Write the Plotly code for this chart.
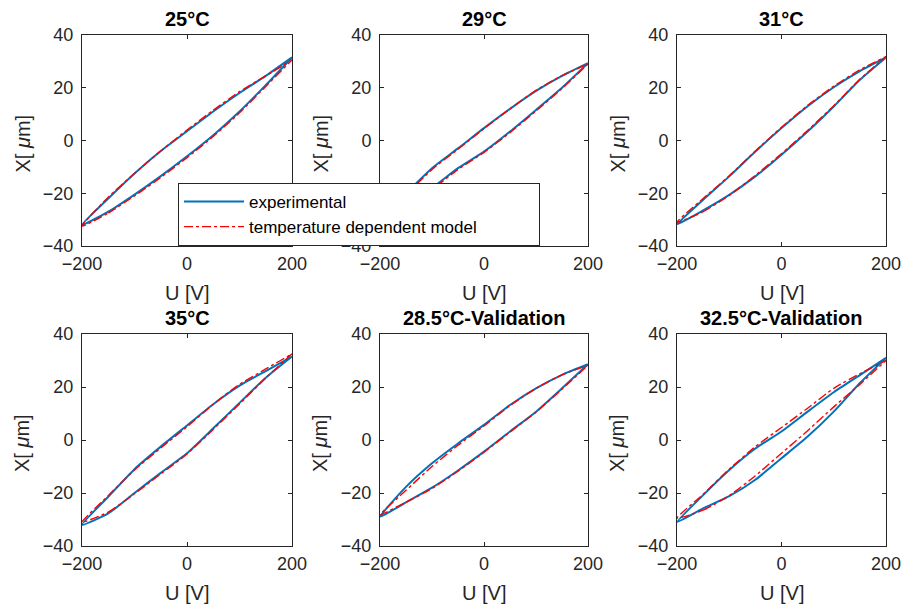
import plotly.graph_objects as go

# ---------------- data ----------------
titles = ["25°C", "29°C", "31°C", "35°C", "28.5°C-Validation", "32.5°C-Validation"]
series_names = ["experimental", "temperature dependent model"]
x_title = "U [V]"
y_title = "X[ <i>μ</i>m]"
U = [-200, -150, -100, -50, 0, 50, 100, 150, 200]

# ascending (lower) and descending (upper) branches, listed at U
exp_low_25 = [-32, -27, -20.5, -13.5, -6, 2, 11, 21, 31.5]
exp_up_25 = [-32, -22, -12.5, -4, 3.5, 11, 18, 24.5, 31.5]
mod_low_25 = [-32.5, -27.5, -21, -14, -6.5, 1.5, 10.5, 20.5, 30.5]
mod_up_25 = [-32.5, -21.5, -12.5, -4, 4, 11.5, 18.5, 24.5, 30.5]

exp_low_29 = [-29, -24, -18, -10.5, -4.2, 3.4, 11.6, 20, 29.3]
exp_up_29 = [-29, -20, -10.5, -3, 4.7, 12, 18.8, 24.5, 29.3]
mod_low_29 = [-29, -24.5, -18.5, -11, -4.5, 3, 11.2, 19.7, 29]
mod_up_29 = [-29, -20.5, -11, -3.3, 4.5, 12, 19, 24.6, 29]

exp_low_31 = [-31.8, -26.5, -20.6, -13.6, -5.4, 3.4, 12.9, 23, 31.5]
exp_up_31 = [-31.8, -22.5, -13.6, -4.2, 4.7, 13, 20.2, 26.3, 31.5]
mod_low_31 = [-31, -27, -20.8, -13.2, -5, 3.8, 13.2, 23.2, 31.8]
mod_up_31 = [-31, -22, -13.4, -4, 5, 13.3, 20.6, 26.8, 31.8]

exp_low_35 = [-32, -27.7, -20, -12.4, -5, 4.4, 14, 23.5, 31.5]
exp_up_35 = [-32, -21.4, -11, -2.5, 5.5, 13.5, 20.5, 26, 31.5]
mod_low_35 = [-31, -27.2, -20.3, -12.8, -5.3, 4, 13.6, 23.4, 32.5]
mod_up_35 = [-31, -21, -11.3, -3, 5, 13.5, 21, 26.8, 32.5]

exp_low_285 = [-29, -23.5, -18, -11.5, -4.4, 3.2, 10.7, 19.5, 28.6]
exp_up_285 = [-29, -17.7, -8.8, -1.3, 5.7, 13.2, 19.5, 24.6, 28.6]
mod_low_285 = [-28.2, -23.5, -18.3, -11.8, -4.6, 3, 10.5, 19.2, 28.2]
mod_up_285 = [-28.2, -19, -10, -2, 5.3, 13, 19.5, 24.6, 28.2]

exp_low_325 = [-31, -25.8, -21.2, -15, -6.9, 1.3, 10.7, 21.5, 31]
exp_up_325 = [-31, -20.8, -11.3, -3.2, 3.2, 10.7, 18, 24.5, 31]
mod_low_325 = [-29.5, -26.5, -21, -13.5, -5, 3.5, 12.5, 21, 30]
mod_up_325 = [-29.5, -20.5, -11, -2.5, 4.7, 12, 19.5, 25, 30]

exp_sets = [(exp_low_25, exp_up_25), (exp_low_29, exp_up_29), (exp_low_31, exp_up_31),
            (exp_low_35, exp_up_35), (exp_low_285, exp_up_285), (exp_low_325, exp_up_325)]
mod_sets = [(mod_low_25, mod_up_25), (mod_low_29, mod_up_29), (mod_low_31, mod_up_31),
            (mod_low_35, mod_up_35), (mod_low_285, mod_up_285), (mod_low_325, mod_up_325)]

x_ticks = [-200, 0, 200]
y_ticks = [-40, -20, 0, 20, 40]

# ---------------- layout geometry ----------------
# Page margin is removed by the post script, so figure pixels = window pixels.
OFF = 0
W, H = 903 - OFF, 607 - OFF
cols_px = [(82 - OFF, 292 - OFF), (380 - OFF, 588 - OFF), (677 - OFF, 886 - OFF)]
rows_px = [(35 - OFF, 246 - OFF), (334 - OFF, 546 - OFF)]

BLUE = "#0072BD"
RED = "#FF0000"
TXT = "#262626"
FONT = "Liberation Sans, Arial, sans-serif"
PAD = "\u00a0" * 12  # widens the legend box like the reference

fig = go.Figure()
annotations = []

for i in range(6):
    r, c = divmod(i, 3)
    ax = "" if i == 0 else str(i + 1)
    xa, ya = "x" + ax, "y" + ax
    low, up = exp_sets[i]
    mlow, mup = mod_sets[i]
    loop_x = U + U[::-1]
    fig.add_trace(go.Scatter(
        x=loop_x, y=low + up[::-1], mode="lines",
        line=dict(color=BLUE, width=2, shape="spline", smoothing=0.6),
        name=series_names[0], showlegend=(i == 0), xaxis=xa, yaxis=ya))
    fig.add_trace(go.Scatter(
        x=loop_x, y=mlow + mup[::-1], mode="lines",
        line=dict(color=RED, width=1.4, dash="dashdot", shape="spline", smoothing=0.6),
        name=series_names[1] + PAD, showlegend=(i == 0), xaxis=xa, yaxis=ya))

    x0, x1 = cols_px[c]
    y0, y1 = rows_px[r]
    axis_common = dict(showline=True, linecolor=TXT, linewidth=1, mirror="ticks",
                       ticks="inside", ticklen=4, tickcolor=TXT, showgrid=False,
                       zeroline=False, automargin=False,
                       tickfont=dict(family=FONT, size=18, color=TXT))
    fig.layout["xaxis" + ax] = dict(
        domain=[x0 / W, x1 / W], range=[-200, 200], tickvals=x_ticks,
        anchor=ya, ticklabelstandoff=1, **axis_common)
    fig.layout["yaxis" + ax] = dict(
        domain=[1 - y1 / H, 1 - y0 / H], range=[-40, 40], tickvals=y_ticks,
        anchor=xa, ticklabelstandoff=4, **axis_common)
    # subplot title
    annotations.append(dict(
        text="<b>" + titles[i] + "</b>", x=(x0 + x1) / 2 / W, y=1 - (y0 - 3) / H,
        xref="paper", yref="paper", xanchor="center", yanchor="bottom", showarrow=False,
        font=dict(family=FONT, size=20, color="#000000")))
    # x-axis title
    annotations.append(dict(
        text=x_title, x=(x0 + x1) / 2 / W, y=1 - (y1 + 34) / H,
        xref="paper", yref="paper", xanchor="center", yanchor="top", showarrow=False,
        font=dict(family=FONT, size=20, color=TXT)))
    # y-axis title
    annotations.append(dict(
        text=y_title, x=(x0 - 60) / W, y=1 - ((y0 + y1) / 2 + 3) / H, textangle=-90,
        xref="paper", yref="paper", xanchor="center", yanchor="middle", showarrow=False,
        font=dict(family=FONT, size=20, color=TXT)))

fig.update_layout(
    width=W, height=H, margin=dict(l=0, r=0, t=0, b=0),
    paper_bgcolor="white", plot_bgcolor="white",
    annotations=annotations,
    legend=dict(x=(178 - OFF) / W, y=1 - (183 - OFF) / H, xanchor="left", yanchor="top",
                bgcolor="white", bordercolor=TXT, borderwidth=1,
                font=dict(family=FONT, size=17, color="#000000"),
                tracegroupgap=0, itemwidth=60),
)

fig.write_html("out.html",
               config={"displayModeBar": False},
               post_script="document.body.style.margin='0';"
                           "document.documentElement.style.overflow='hidden';"
                           "document.body.style.overflow='hidden';")
